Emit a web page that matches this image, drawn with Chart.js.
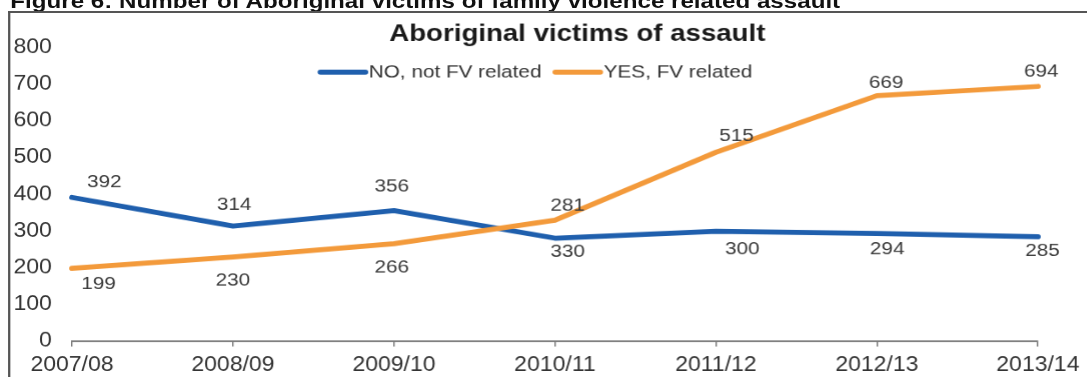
<!DOCTYPE html>
<html><head><meta charset="utf-8">
<script src="https://cdn.jsdelivr.net/npm/chart.js@4.4.1/dist/chart.umd.min.js"></script>
<style>
html,body{margin:0;padding:0;background:#fff;overflow:hidden;width:1087px;height:377px;}
#stage{position:absolute;left:0;top:0;width:945px;height:377px;transform:scaleX(1.15);transform-origin:0 0;}
#caption{position:absolute;left:9px;top:-10px;font:bold 21px/21px "Liberation Sans",Arial,sans-serif;color:#111;white-space:nowrap;}
#frame{position:absolute;left:7px;top:11px;right:-30px;bottom:-10px;border-top:2px solid #555;border-left:2px solid #555;}
#wrap{position:absolute;left:0;top:0;width:945px;height:377px;}
</style></head><body>
<div id="stage">
  <div id="caption">Figure 6: Number of Aboriginal victims of family violence related assault</div>
  <div id="frame"></div>
  <div id="wrap"><canvas id="c"></canvas></div>
</div>
<script>
// ---- data ----
const categories = ['2007/08','2008/09','2009/10','2010/11','2011/12','2012/13','2013/14'];
const seriesNames = ['NO, not FV related','YES, FV related'];
const notFvValues = [392, 314, 356, 281, 300, 294, 285];
const fvValues    = [199, 230, 266, 330, 515, 669, 694];
// value labels exactly as printed in the source (the 2010/11 labels appear swapped there)
const notFvLabelText = ['392','314','356','330','300','294','285'];
const fvLabelText    = ['199','230','266','281','515','669','694'];
const yTicks = [0,100,200,300,400,500,600,700,800];

const FONT = '"Liberation Sans", Arial, sans-serif';
const BLUE = '#1f5fad';
const ORANGE = '#f39a3b';

const pointLabels = {
  id: 'pointLabels',
  afterDatasetsDraw(chart, args, opts) {
    const ctx = chart.ctx;
    ctx.save();
    ctx.font = opts.font;
    ctx.fillStyle = opts.color;
    ctx.textAlign = 'center';
    ctx.textBaseline = 'middle';
    chart.data.datasets.forEach((ds, di) => {
      const meta = chart.getDatasetMeta(di);
      const cfg = opts.series[di];
      meta.data.forEach((pt, i) => {
        ctx.fillText(cfg.text[i], pt.x + cfg.dx[i], pt.y + cfg.dy[i]);
      });
    });
    ctx.restore();
  }
};

const lineLegend = {
  id: 'lineLegend',
  afterDraw(chart, args, opts) {
    const ctx = chart.ctx;
    ctx.save();
    ctx.font = opts.font;
    ctx.textBaseline = 'middle';
    ctx.textAlign = 'left';
    let x = opts.x;
    const y = opts.y;
    chart.data.datasets.forEach(ds => {
      ctx.strokeStyle = ds.borderColor;
      ctx.lineWidth = opts.lineWidth;
      ctx.lineCap = 'round';
      ctx.beginPath();
      ctx.moveTo(x + 2, y);
      ctx.lineTo(x + opts.sample - 2, y);
      ctx.stroke();
      ctx.fillStyle = opts.color;
      const tx = x + opts.sample + 1;
      ctx.fillText(ds.label, tx, y);
      x = tx + ctx.measureText(ds.label).width + opts.gap;
    });
    ctx.restore();
  }
};

const titleShift = {
  id: 'titleShift',
  afterLayout(chart, args, opts) {
    const t = chart.titleBlock;
    if (!t) return;
    const d = opts.centerX - (t.left + t.right) / 2;
    t.left += d; t.right += d;
  }
};

new Chart(document.getElementById('c'), {
  type: 'line',
  data: {
    labels: categories,
    datasets: [
      { label: seriesNames[0], data: notFvValues, borderColor: BLUE, backgroundColor: BLUE,
        borderWidth: 5, pointRadius: 0, tension: 0, fill: false, order: 1,
        borderJoinStyle: 'round', borderCapStyle: 'round', clip: false },
      { label: seriesNames[1], data: fvValues, borderColor: ORANGE, backgroundColor: ORANGE,
        borderWidth: 5, pointRadius: 0, tension: 0, fill: false, order: 0,
        borderJoinStyle: 'round', borderCapStyle: 'round', clip: false }
    ]
  },
  options: {
    responsive: true,
    maintainAspectRatio: false,
    devicePixelRatio: 1.15,
    animation: false,
    layout: { padding: { left: 0, right: 38, top: 21, bottom: -7 } },
    plugins: {
      legend: { display: false },
      tooltip: { enabled: false },
      title: {
        display: true,
        text: 'Aboriginal victims of assault',
        color: '#1a1a1a',
        font: { family: FONT, size: 24, weight: 'bold', lineHeight: 1.1 },
        padding: { top: 0, bottom: 0 }
      },
      titleShift: { centerX: 501.7 },
      lineLegend: { x: 276.5, y: 72, sample: 43, gap: 10, lineWidth: 5,
        font: '18px ' + FONT, color: '#333' },
      pointLabels: {
        font: '18px ' + FONT,
        color: '#3a3a3a',
        series: [
          { text: notFvLabelText, dx: [28, 1, -2, 11, 23, 9, 4], dy: [-15, -21, -24, 14, 18, 16, 14] },
          { text: fvLabelText,    dx: [23, 0, -2, 11, 18, 8, 3], dy: [16, 24, 24, -14, -16, -13, -15] }
        ]
      }
    },
    scales: {
      x: {
        offset: false,
        grid: { display: true, drawOnChartArea: false, drawTicks: true, tickLength: 5, color: '#777', lineWidth: 1.2 },
        border: { display: true, color: '#666', width: 1.5 },
        ticks: { font: { family: FONT, size: 20 }, color: '#333', padding: 7, maxRotation: 0, autoSkip: false }
      },
      y: {
        min: yTicks[0],
        max: yTicks[yTicks.length - 1],
        afterBuildTicks(scale) { scale.ticks = yTicks.map(v => ({ value: v })); },
        afterFit(scale) { scale.width = 62.6; },
        grid: { display: false, drawTicks: false },
        border: { display: false },
        ticks: { font: { family: FONT, size: 20 }, color: '#333', padding: 17.6 }
      }
    }
  },
  plugins: [pointLabels, lineLegend, titleShift]
});
</script>
</body></html>
